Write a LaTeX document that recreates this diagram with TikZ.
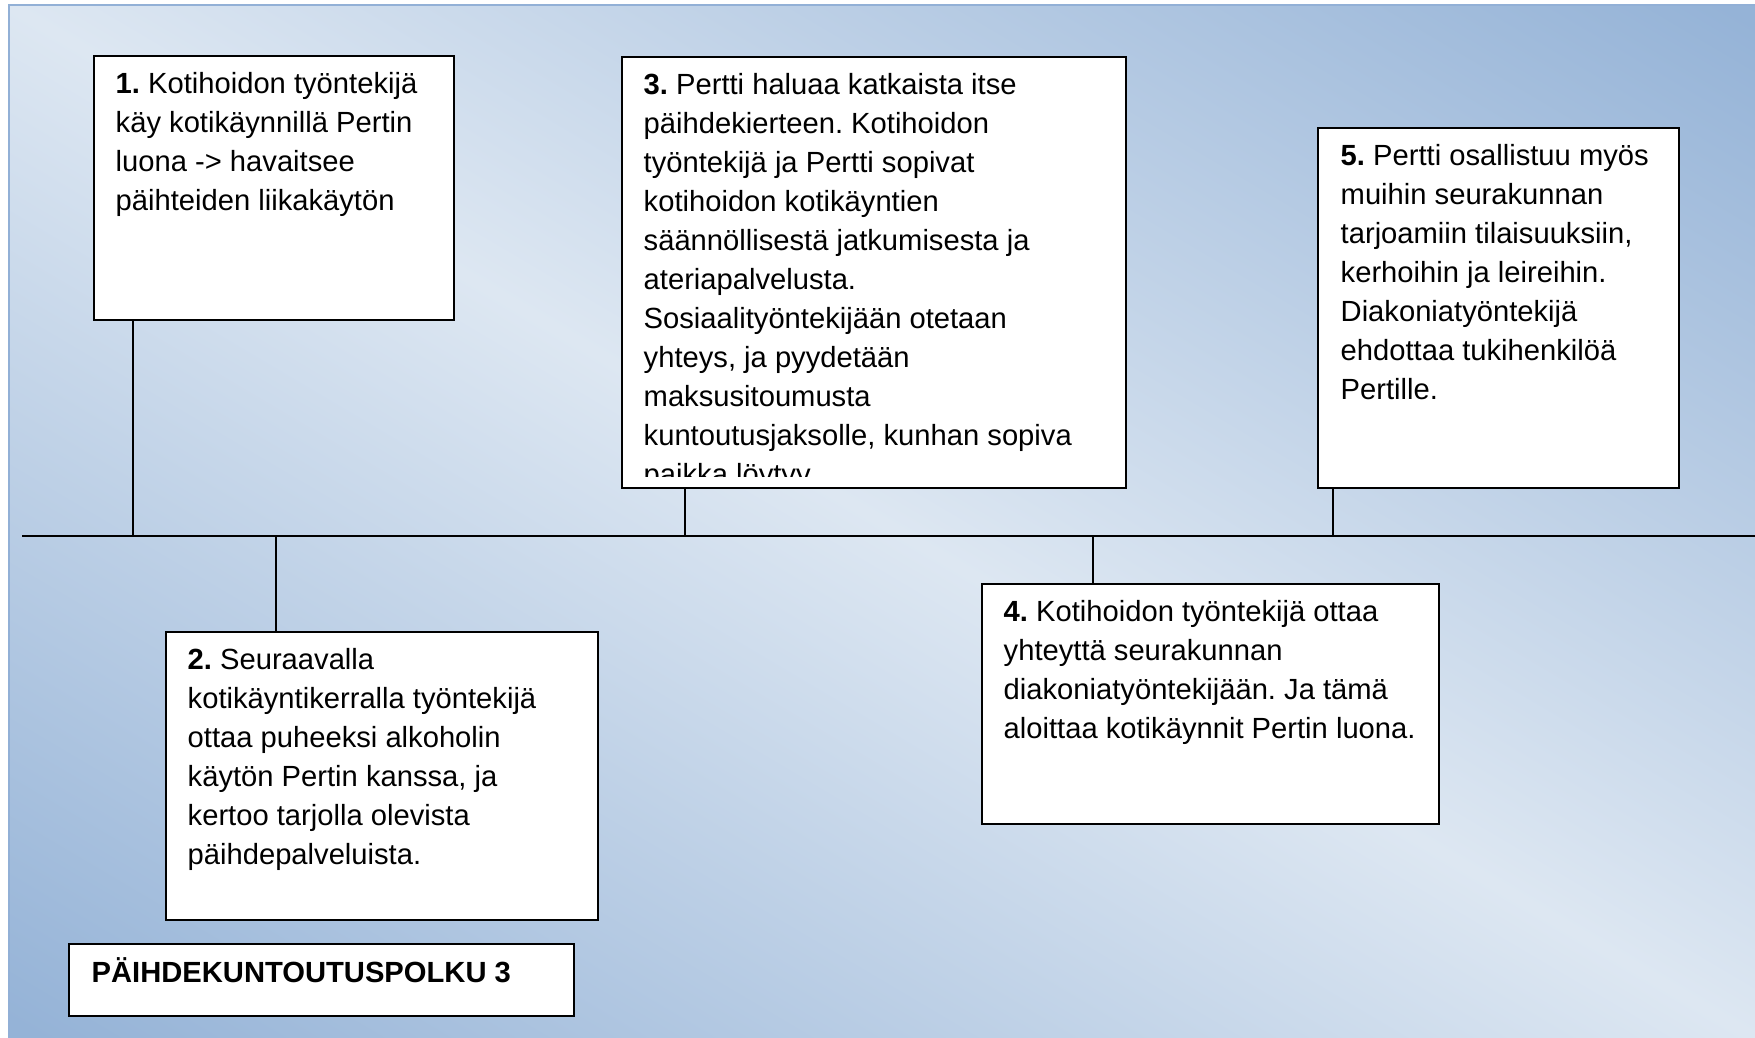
\documentclass[tikz,border=0pt]{standalone}
\usepackage{fontspec}
\setmainfont{Liberation Sans}
\usepackage{tikz}
\definecolor{bgdark}{RGB}{149,179,215}
\definecolor{bglight}{RGB}{221,231,242}
\definecolor{bgframe}{RGB}{146,176,214}
\tikzset{
  box/.style={draw, fill=white, line width=0.2mm, anchor=north west, inner sep=0pt, outer sep=0pt},
  txt/.style={anchor=north west, inner sep=0pt, align=left, font=\fontsize{8.3pt}{11.1pt}\selectfont\frenchspacing},
  stem/.style={line width=0.2mm}
}

\begin{document}
\begin{tikzpicture}[x=0.1mm, y=-0.1mm]
\useasboundingbox (0,0) rectangle (1755,1038);
\begin{scope}
\clip (9,5) rectangle (1770,1050);
\shade[top color=bgdark, bottom color=bgdark, middle color=bglight, shading angle=-30.6] (-297,-176) rectangle (2061,1219);
\end{scope}
\draw[bgframe, line width=0.15mm] (9,5) rectangle (1770,1050);

\coordinate (tl) at (22,536);
\coordinate (tr) at (1755,536);
\draw[stem] (tl) -- (tr);

\node[box, minimum width=36mm, minimum height=26.4mm] (b1) at (94,56) {};
\node[txt] (t1) at ([shift={(2.1mm,-1.6mm)}]b1.north west) {\textbf{1.} Kotihoidon työntekijä\\käy kotikäynnillä Pertin\\luona -> havaitsee\\päihteiden liikakäytön};

\node[box, minimum width=43.2mm, minimum height=28.8mm] (b2) at (166,632) {};
\node[txt] (t2) at ([shift={(2.1mm,-1.6mm)}]b2.north west) {\textbf{2.} Seuraavalla\\kotikäyntikerralla työntekijä\\ottaa puheeksi alkoholin\\käytön Pertin kanssa, ja\\kertoo tarjolla olevista\\päihdepalveluista.};

\node[box, minimum width=50.4mm, minimum height=43.1mm] (b3) at (622,57) {};
\begin{scope}
\clip (b3.north west) rectangle ([yshift=1.2mm]b3.south east);
\node[txt] (t3) at ([shift={(2.1mm,-1.6mm)}]b3.north west) {\textbf{3.} Pertti haluaa katkaista itse\\päihdekierteen. Kotihoidon\\työntekijä ja Pertti sopivat\\kotihoidon kotikäyntien\\säännöllisestä jatkumisesta ja\\ateriapalvelusta.\\Sosiaalityöntekijään otetaan\\yhteys, ja pyydetään\\maksusitoumusta\\kuntoutusjaksolle, kunhan sopiva\\paikka löytyy.};
\end{scope}

\node[box, minimum width=45.7mm, minimum height=24mm] (b4) at (982,584) {};
\node[txt] (t4) at ([shift={(2.1mm,-1.6mm)}]b4.north west) {\textbf{4.} Kotihoidon työntekijä ottaa\\yhteyttä seurakunnan\\diakoniatyöntekijään. Ja tämä\\aloittaa kotikäynnit Pertin luona.};

\node[box, minimum width=36.1mm, minimum height=36mm] (b5) at (1318,128) {};
\node[txt] (t5) at ([shift={(2.2mm,-1.6mm)}]b5.north west) {\textbf{5.} Pertti osallistuu myös\\muihin seurakunnan\\tarjoamiin tilaisuuksiin,\\kerhoihin ja leireihin.\\Diakoniatyöntekijä\\ehdottaa tukihenkilöä\\Pertille.};

\node[box, minimum width=50.5mm, minimum height=7.2mm] (b0) at (69,944) {};
\node[txt, anchor=base west] (t0) at ([shift={(2.2mm,-3.8mm)}]b0.north west) {\textbf{PÄIHDEKUNTOUTUSPOLKU 3}};

\draw[stem] ([xshift=3.9mm]b1.south west) -- ([xshift=3.9mm]b1.south west |- tl);
\draw[stem] ([xshift=11mm]b2.north west) -- ([xshift=11mm]b2.north west |- tl);
\draw[stem] ([xshift=6.3mm]b3.south west) -- ([xshift=6.3mm]b3.south west |- tl);
\draw[stem] ([xshift=11.1mm]b4.north west) -- ([xshift=11.1mm]b4.north west |- tl);
\draw[stem] ([xshift=1.5mm]b5.south west) -- ([xshift=1.5mm]b5.south west |- tl);
\end{tikzpicture}
\end{document}
